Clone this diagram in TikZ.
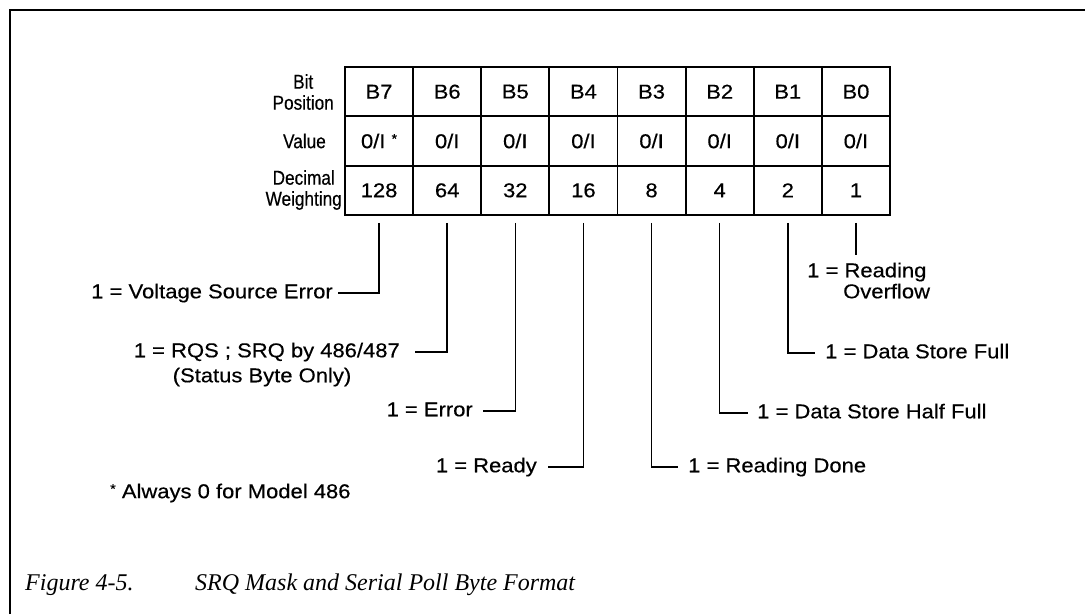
\documentclass[tikz,border=0pt]{standalone}
\usepackage{fontspec}
\setmainfont{Liberation Sans}[FakeStretch=1.1, FakeBold=0.4]
\newfontfamily\condfont{Liberation Sans}[FakeStretch=0.86, FakeBold=0.4]
\newfontfamily\capfont{Liberation Serif}
\newcommand\mainsz{\fontsize{20}{21}\selectfont}
\newcommand\capsz{\fontsize{24}{26}\selectfont}
\newcommand\starmark{\raisebox{5pt}{\fontsize{13}{13}\selectfont *}}
\begin{document}
\begin{tikzpicture}[x=1pt,y=-1pt,
  every node/.style={inner sep=0pt, font=\mainsz},
  cell/.style={draw, line width=1.9pt, minimum width=68.125pt, minimum height=49.33pt},
  lbl/.style={text height=14.5pt, text depth=4pt},
  rowlbl/.style={font=\condfont\mainsz, align=center},
  conn/.style={line width=1.6pt},
  frame/.style={line width=2.5pt},
  figcap/.style={font=\capfont\itshape\capsz, anchor=west}]
\useasboundingbox (0,0) rectangle (1085,614);
\fill[white] (0,0) rectangle (1085,614);
% frame
\coordinate (fbl) at (10,614);
\coordinate (ftl) at (10,10);
\coordinate (ftr) at (1085,10);
\draw[frame] (fbl) -- (ftl) -- (ftr);
% table
\foreach \n/\c/\w in {7/0/128, 6/1/64, 5/2/32, 4/3/16, 3/4/8, 2/5/4, 1/6/2, 0/7/1} {
  \node[cell] (b\n) at ({345+68.125*(\c+0.5)}, 91.67) {B\n};
  \node[cell] (w\n) at ({345+68.125*(\c+0.5)}, 190.33) {\w};
}
\foreach \n/\c in {6/1, 5/2, 4/3, 3/4, 2/5, 1/6, 0/7} {
  \node[cell] (v\n) at ({345+68.125*(\c+0.5)}, 141) {0/I};
}
\node[cell] (v7) at ({345+68.125*0.5}, 141) {0/I \starmark};
% row labels
\node[rowlbl, anchor=east] (lbit) at (334, 92) {Bit\\Position};
\node[rowlbl, anchor=east] (lval) at (326, 141) {Value};
\node[rowlbl, anchor=east] (ldec) at (342, 190) {Decimal\\Weighting};
% bit labels
\node[lbl, anchor=east] (t7) at (333,293) {1 = Voltage Source Error};
\node[lbl, anchor=east] (t6) at (400,352) {1 = RQS ; SRQ by 486/487};
\node[lbl] (t6b) at (262,377) {(Status Byte Only)};
\node[lbl, anchor=east] (t5) at (473,411) {1 = Error};
\node[lbl, anchor=east] (t4) at (537,467) {1 = Ready};
\node[lbl, anchor=west] (t3) at (688,467) {1 = Reading Done};
\node[lbl, anchor=west] (t2) at (757,413) {1 = Data Store Half Full};
\node[lbl, anchor=west] (t1) at (825,353) {1 = Data Store Full};
\node[lbl, anchor=west] (t0) at (807,272) {1 = Reading};
\node[lbl, anchor=west] (t0b) at (843,293) {Overflow};
% connectors
\draw[conn] ([yshift=-7pt]w7.south) |- ([xshift=5pt]t7.east);
\draw[conn] ([yshift=-7pt]w6.south) |- ([xshift=15pt]t6.east);
\draw[conn] ([yshift=-7pt]w5.south) |- ([xshift=10pt]t5.east);
\draw[conn] ([yshift=-7pt]w4.south) |- ([xshift=11pt]t4.east);
\draw[conn] ([yshift=-7pt]w3.south) |- ([xshift=-10pt]t3.west);
\draw[conn] ([yshift=-7pt]w2.south) |- ([xshift=-9pt]t2.west);
\draw[conn] ([yshift=-7pt]w1.south) |- ([xshift=-10pt]t1.west);
\draw[conn] ([yshift=-7pt]w0.south) -- ([yshift=8pt]w0.south |- t0.north);
% footnote
\node[anchor=west] (note) at (110,493) {\starmark\ Always 0 for Model 486};
% caption
\node[figcap] (fignum) at (25,585) {Figure 4-5.};
\node[figcap] (figtitle) at (195,585) {SRQ Mask and Serial Poll Byte Format};
\end{tikzpicture}
\end{document}
